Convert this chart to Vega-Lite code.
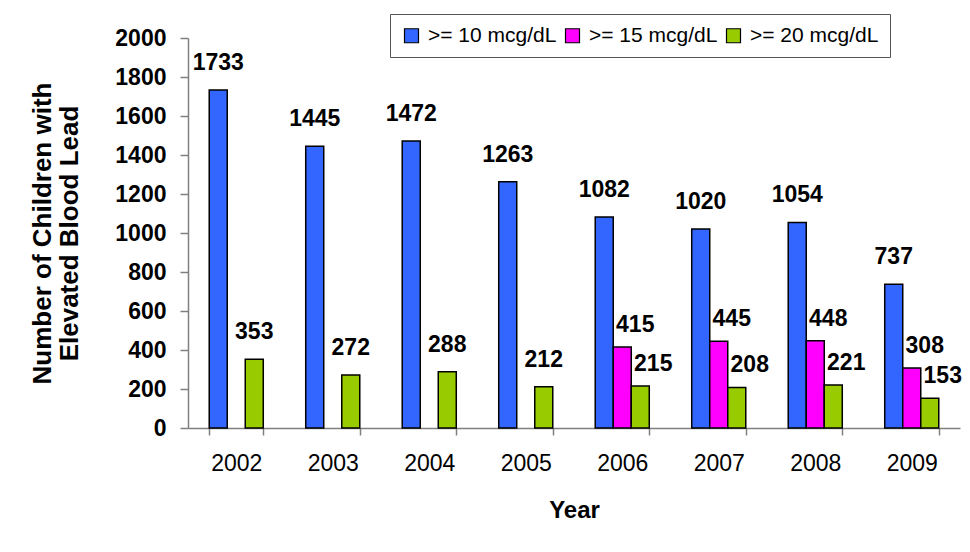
{
  "$schema": "https://vega.github.io/schema/vega-lite/v6.json",
  "autosize": "none",
  "width": 772,
  "height": 390,
  "padding": {"left": 188, "top": 38, "right": 10, "bottom": 124},
  "background": "white",
  "data": {
    "values": [
      {"Year": 2002, "Series": ">= 10 mcg/dL", "Count": 1733},
      {"Year": 2002, "Series": ">= 20 mcg/dL", "Count": 353},
      {"Year": 2003, "Series": ">= 10 mcg/dL", "Count": 1445},
      {"Year": 2003, "Series": ">= 20 mcg/dL", "Count": 272},
      {"Year": 2004, "Series": ">= 10 mcg/dL", "Count": 1472},
      {"Year": 2004, "Series": ">= 20 mcg/dL", "Count": 288},
      {"Year": 2005, "Series": ">= 10 mcg/dL", "Count": 1263},
      {"Year": 2005, "Series": ">= 20 mcg/dL", "Count": 212},
      {"Year": 2006, "Series": ">= 10 mcg/dL", "Count": 1082},
      {"Year": 2006, "Series": ">= 15 mcg/dL", "Count": 415},
      {"Year": 2006, "Series": ">= 20 mcg/dL", "Count": 215},
      {"Year": 2007, "Series": ">= 10 mcg/dL", "Count": 1020},
      {"Year": 2007, "Series": ">= 15 mcg/dL", "Count": 445},
      {"Year": 2007, "Series": ">= 20 mcg/dL", "Count": 208},
      {"Year": 2008, "Series": ">= 10 mcg/dL", "Count": 1054},
      {"Year": 2008, "Series": ">= 15 mcg/dL", "Count": 448},
      {"Year": 2008, "Series": ">= 20 mcg/dL", "Count": 221},
      {"Year": 2009, "Series": ">= 10 mcg/dL", "Count": 737},
      {"Year": 2009, "Series": ">= 15 mcg/dL", "Count": 308},
      {"Year": 2009, "Series": ">= 20 mcg/dL", "Count": 153}
    ]
  },
  "encoding": {
    "x": {
      "field": "Year", "type": "ordinal",
      "scale": {"paddingInner": 0.44, "paddingOuter": 0.22},
      "axis": {
        "title": "Year", "labelAngle": 0, "tickBand": "extent",
        "domainColor": "#808080", "domainWidth": 1.5, "tickColor": "#808080", "tickWidth": 1.5, "tickSize": 7,
        "labelFont": "Liberation Sans", "labelFontSize": 23, "labelColor": "black", "labelPadding": 17,
        "titleFont": "Liberation Sans", "titleFontSize": 24, "titleFontWeight": "bold", "titleColor": "black", "titlePadding": 23
      }
    },
    "xOffset": {"field": "Series", "type": "nominal", "sort": [">= 10 mcg/dL", ">= 15 mcg/dL", ">= 20 mcg/dL"]},
    "y": {
      "field": "Count", "type": "quantitative",
      "scale": {"domain": [0, 2000], "nice": false},
      "axis": {
        "title": ["Number of Children with", "Elevated Blood Lead"],
        "values": [0, 200, 400, 600, 800, 1000, 1200, 1400, 1600, 1800, 2000],
        "format": "d",
        "grid": false,
        "domainColor": "#808080", "domainWidth": 1.5, "tickColor": "#808080", "tickWidth": 1.5, "tickSize": 8,
        "labelFont": "Liberation Sans", "labelFontSize": 23, "labelFontWeight": "bold", "labelColor": "black", "labelPadding": 14,
        "titleFont": "Liberation Sans", "titleFontSize": 26, "titleFontWeight": "bold", "titleColor": "black", "titlePadding": 32, "titleLineHeight": 27
      }
    }
  },
  "layer": [
    {
      "mark": {"type": "bar", "stroke": "black", "strokeWidth": 1.5},
      "encoding": {
        "fill": {
          "field": "Series", "type": "nominal",
          "scale": {"domain": [">= 10 mcg/dL", ">= 15 mcg/dL", ">= 20 mcg/dL"], "range": ["#3366FF", "#FF00FF", "#99CC00"]},
          "legend": {
            "title": null, "orient": "none", "legendX": 202, "legendY": -24, "direction": "horizontal",
            "labelFont": "Liberation Sans", "labelFontSize": 21, "labelColor": "black", "labelOffset": 6,
            "symbolType": "square", "symbolSize": 196, "symbolStrokeColor": "black", "symbolStrokeWidth": 1.2,
            "strokeColor": "#555555", "padding": 11, "columnPadding": 5
          }
        }
      }
    },
    {
      "transform": [{"filter": "datum.Series === '>= 10 mcg/dL' || datum.Year < 2006"}],
      "mark": {"type": "text", "font": "Liberation Sans", "fontSize": 23, "fontWeight": "bold", "color": "black", "baseline": "alphabetic", "dy": -20},
      "encoding": {"text": {"field": "Count", "type": "quantitative"}}
    },
    {
      "transform": [{"filter": "datum.Series !== '>= 10 mcg/dL' && datum.Year >= 2006"}],
      "mark": {"type": "text", "font": "Liberation Sans", "fontSize": 23, "fontWeight": "bold", "color": "black", "baseline": "alphabetic", "dx": 13, "dy": -15},
      "encoding": {"text": {"field": "Count", "type": "quantitative"}}
    }
  ],
  "config": {"view": {"stroke": null}}
}
